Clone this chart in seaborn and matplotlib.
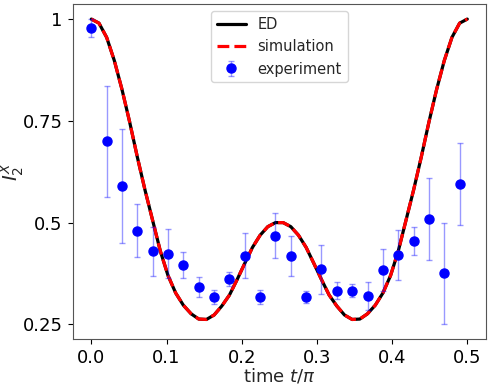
import numpy as np
import pandas as pd
import matplotlib
matplotlib.use("Agg")
import matplotlib.pyplot as plt
import seaborn as sns

# --- Datos --- #

tiempo = [0.0, 0.0102, 0.0204, 0.0306, 0.0408, 0.0510, 0.0612, 0.0714, 0.0816, 0.0918,
          0.1020, 0.1122, 0.1224, 0.1327, 0.1429, 0.1531, 0.1633, 0.1735, 0.1837, 0.1939,
          0.2041, 0.2143, 0.2245, 0.2347, 0.2449, 0.2551, 0.2653, 0.2755, 0.2857, 0.2959,
          0.3061, 0.3163, 0.3265, 0.3367, 0.3469, 0.3571, 0.3673, 0.3776, 0.3878, 0.3980,
          0.4082, 0.4184, 0.4286, 0.4388, 0.4490, 0.4592, 0.4694, 0.4796, 0.4898, 0.5]

ed = [1.000, 0.990, 0.955, 0.898, 0.827, 0.747, 0.661, 0.580, 0.505, 0.430,
      0.370, 0.327, 0.297, 0.276, 0.263, 0.262, 0.273, 0.295, 0.322, 0.360,
      0.400, 0.439, 0.469, 0.490, 0.500, 0.500, 0.490, 0.469, 0.439, 0.400,
      0.360, 0.322, 0.295, 0.273, 0.262, 0.263, 0.276, 0.297, 0.327, 0.370,
      0.430, 0.505, 0.580, 0.661, 0.747, 0.827, 0.898, 0.955, 0.990, 1.000]

simulacion = [1.000, 0.990, 0.955, 0.898, 0.827, 0.747, 0.661, 0.580, 0.505, 0.430,
              0.370, 0.327, 0.297, 0.276, 0.263, 0.262, 0.273, 0.295, 0.322, 0.360,
              0.400, 0.439, 0.469, 0.490, 0.500, 0.500, 0.490, 0.469, 0.439, 0.400,
              0.360, 0.322, 0.295, 0.273, 0.262, 0.263, 0.276, 0.297, 0.327, 0.370,
              0.430, 0.505, 0.580, 0.661, 0.747, 0.827, 0.898, 0.955, 0.990, 1.000]

t_exp = [0.0, 0.0204, 0.0408, 0.0612, 0.0816, 0.1020, 0.1224, 0.1429, 0.1633, 0.1837,
         0.2041, 0.2245, 0.2449, 0.2653, 0.2857, 0.3061, 0.3265, 0.3469, 0.3673, 0.3878,
         0.4082, 0.4286, 0.4490, 0.4694, 0.4898]

experimento = [0.978, 0.700, 0.590, 0.480, 0.429, 0.424, 0.396, 0.341, 0.317, 0.362,
               0.419, 0.317, 0.468, 0.419, 0.317, 0.385, 0.333, 0.332, 0.320, 0.384,
               0.421, 0.455, 0.509, 0.375, 0.595]

error_exp = [0.021, 0.136, 0.140, 0.065, 0.060, 0.060, 0.031, 0.025, 0.017, 0.017,
             0.055, 0.018, 0.056, 0.049, 0.015, 0.060, 0.021, 0.016, 0.034, 0.051,
             0.062, 0.034, 0.100, 0.124, 0.101]

yticks = [0.25, 0.5, 0.75, 1]
ytick_labels = ["0.25", "0.5", "0.75", "1"]

df_teo = pd.DataFrame({"t": tiempo, "ED": ed, "simulation": simulacion})

# --- Gráfico --- #

sns.set_style("ticks")
plt.rcParams['font.family'] = ['DejaVu Sans']

fig = plt.figure(figsize=(4.9, 3.85), dpi=100)
ax = fig.add_axes([0.148, 0.119, 0.844, 0.871])

sns.lineplot(data=df_teo, x="t", y="ED", color="black", linewidth=2.3, label="ED", ax=ax)
sns.lineplot(data=df_teo, x="t", y="simulation", color="red", linewidth=2.3,
             linestyle="--", label="simulation", ax=ax)
ax.errorbar(t_exp, experimento, yerr=error_exp, fmt="o", color="blue", ms=6.5,
            ecolor=(0, 0, 1, 0.4), elinewidth=1, capsize=2, label="experiment")

ax.set_yticks(yticks)
ax.set_yticklabels(ytick_labels)
ax.tick_params(labelsize=13, colors="black")
ax.set_xlabel(r"time $t/\pi$", fontsize=13, labelpad=0)
ax.set_ylabel(r"$I_2^X$", fontsize=14)
ax.yaxis.set_label_coords(-0.112, 0.5)
for s in ax.spines.values():
    s.set_color("#555555")

ax.legend(loc="upper center", fontsize=10.5)

fig.savefig("out.png", dpi=100)
